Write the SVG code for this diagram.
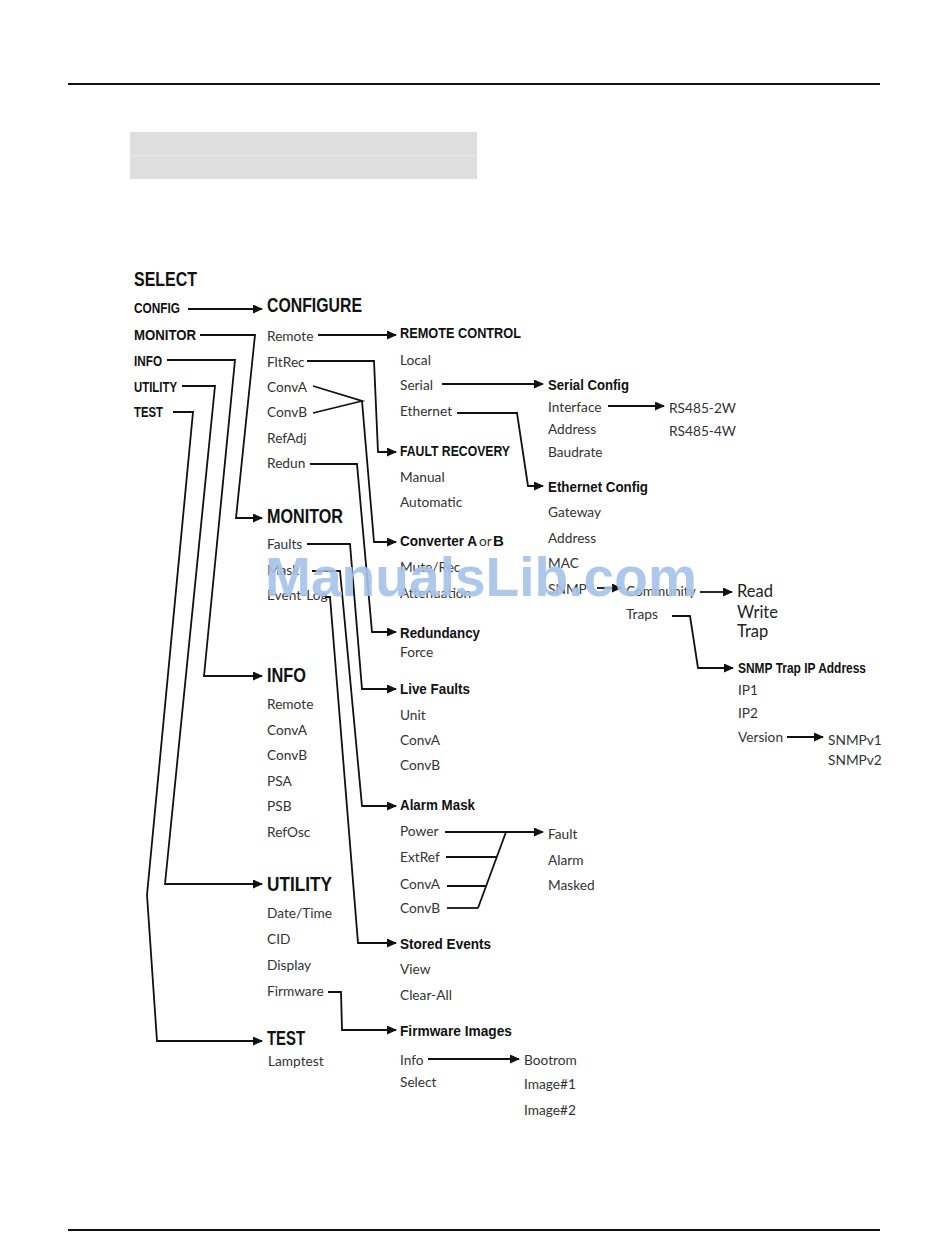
<svg xmlns="http://www.w3.org/2000/svg" width="950" height="1260" viewBox="0 0 950 1260">
<style>
.t{font-family:Lato,"Liberation Sans",sans-serif;font-size:13.7px;fill:#333}
.tb{font-family:Lato,"Liberation Sans",sans-serif;font-size:16.5px;fill:#222}
.h{font-family:"Liberation Sans",Arial,sans-serif;font-weight:bold;font-size:15px;fill:#111}
.H{font-family:"Liberation Sans",Arial,sans-serif;font-weight:bold;font-size:19.5px;fill:#111}
.c{stroke:#111;stroke-width:1.8;fill:none;stroke-linejoin:miter}
.a{marker-end:url(#ah)}
.wm{font-family:"Liberation Sans",Arial,sans-serif;font-weight:bold;font-size:56px;fill:#a6c3ea;opacity:0.9}
</style>
<defs>
<marker id="ah" markerUnits="userSpaceOnUse" markerWidth="10" markerHeight="9" refX="9" refY="4.5" orient="auto">
<path d="M0,0 L10,4.5 L0,9 z" fill="#111"/>
</marker>
</defs>
<rect width="950" height="1260" fill="#fff"/>
<g id="page">
<line x1="68" y1="84" x2="880" y2="84" stroke="#111" stroke-width="2"/>
<rect x="130" y="132" width="347" height="47" fill="#dedede"/>
<line x1="130" y1="155.5" x2="477" y2="155.5" stroke="#e8e8e8" stroke-width="1.5"/>
<line x1="68" y1="1230" x2="880" y2="1230" stroke="#111" stroke-width="2"/>
</g>
<g id="connectors">
<path class="c a" d="M188,309 H262"/>
<path class="c a" d="M200,335 H255 L236,518 H262"/>
<path class="c a" d="M167,360 H235 L204,676 H262"/>
<path class="c a" d="M182,386 H215 L165,884 H262"/>
<path class="c a" d="M173,412 H193 L147,895 L157,1041 H262"/>
<path class="c a" d="M318,335 H396"/>
<path class="c a" d="M307,361 H374 L378,452 H396"/>
<path class="c" d="M313,386 L362,401 L313,413"/>
<path class="c a" d="M362,401 L374,542 H396"/>
<path class="c a" d="M310,464 H357 L372,632 H396"/>
<path class="c a" d="M442,384 H543"/>
<path class="c a" d="M457,413 H517 L528,486 H543"/>
<path class="c a" d="M608,406 H664"/>
<path class="c a" d="M597,588 H621"/>
<path class="c a" d="M700,592 H732"/>
<path class="c a" d="M672,616 H690 L698,668 H733"/>
<path class="c a" d="M787,737 H823"/>
<path class="c a" d="M307,544 H350 L362,689 H396"/>
<path class="c a" d="M312,571 H340 L362,806 H396"/>
<path class="c a" d="M325,597 H330 L358,943 H396"/>
<path class="c a" d="M445,832 H543"/>
<path class="c" d="M506,832 L478,908"/>
<path class="c" d="M446,857 H497"/>
<path class="c" d="M447,886 H487"/>
<path class="c" d="M447,908 H478"/>
<path class="c a" d="M328,992 H341 L342,1030 H396"/>
<path class="c a" d="M428,1059 H519"/>
</g>
<g id="select">
<text class="H" x="134" y="286" textLength="63" lengthAdjust="spacingAndGlyphs">SELECT</text>
<text class="h" x="134" y="313" textLength="46" lengthAdjust="spacingAndGlyphs">CONFIG</text>
<text class="h" x="134" y="340" textLength="62" lengthAdjust="spacingAndGlyphs">MONITOR</text>
<text class="h" x="134" y="366" textLength="28" lengthAdjust="spacingAndGlyphs">INFO</text>
<text class="h" x="134" y="392" textLength="43" lengthAdjust="spacingAndGlyphs">UTILITY</text>
<text class="h" x="134" y="417" textLength="29" lengthAdjust="spacingAndGlyphs">TEST</text>
</g>
<g id="configure">
<text class="H" x="267" y="312" textLength="95" lengthAdjust="spacingAndGlyphs">CONFIGURE</text>
<text class="t" x="267" y="341">Remote</text>
<text class="t" x="267" y="367">FltRec</text>
<text class="t" x="267" y="392">ConvA</text>
<text class="t" x="267" y="417">ConvB</text>
<text class="t" x="267" y="443">RefAdj</text>
<text class="t" x="267" y="468">Redun</text>
</g>
<g id="monitor">
<text class="H" x="267" y="523" textLength="76" lengthAdjust="spacingAndGlyphs">MONITOR</text>
<text class="t" x="267" y="549">Faults</text>
<text class="t" x="267" y="575">Mask</text>
<text class="t" x="267" y="600">Event-Log</text>
</g>
<g id="info">
<text class="H" x="267" y="682" textLength="39" lengthAdjust="spacingAndGlyphs">INFO</text>
<text class="t" x="267" y="709">Remote</text>
<text class="t" x="267" y="735">ConvA</text>
<text class="t" x="267" y="760">ConvB</text>
<text class="t" x="267" y="786">PSA</text>
<text class="t" x="267" y="811">PSB</text>
<text class="t" x="267" y="837">RefOsc</text>
</g>
<g id="utility">
<text class="H" x="267" y="891" textLength="65" lengthAdjust="spacingAndGlyphs">UTILITY</text>
<text class="t" x="267" y="918">Date/Time</text>
<text class="t" x="267" y="944">CID</text>
<text class="t" x="267" y="970">Display</text>
<text class="t" x="267" y="996">Firmware</text>
</g>
<g id="test">
<text class="H" x="267" y="1045" textLength="38" lengthAdjust="spacingAndGlyphs">TEST</text>
<text class="t" x="268" y="1066">Lamptest</text>
</g>
<g id="remote-control">
<text class="h" x="400" y="338" textLength="121" lengthAdjust="spacingAndGlyphs">REMOTE CONTROL</text>
<text class="t" x="400" y="365">Local</text>
<text class="t" x="400" y="390">Serial</text>
<text class="t" x="400" y="416">Ethernet</text>
</g>
<g id="fault-recovery">
<text class="h" x="400" y="456" textLength="110" lengthAdjust="spacingAndGlyphs">FAULT RECOVERY</text>
<text class="t" x="400" y="482">Manual</text>
<text class="t" x="400" y="507">Automatic</text>
</g>
<g id="converter">
<text class="h" x="400" y="546" textLength="77" lengthAdjust="spacingAndGlyphs">Converter A</text>
<text class="t" x="479" y="546">or</text>
<text class="h" x="493" y="546">B</text>
<text class="t" x="400" y="572">Mute/Rec</text>
<text class="t" x="400" y="598">Attenuation</text>
</g>
<g id="redundancy">
<text class="h" x="400" y="638" textLength="80" lengthAdjust="spacingAndGlyphs">Redundancy</text>
<text class="t" x="400" y="657">Force</text>
</g>
<g id="live-faults">
<text class="h" x="400" y="694" textLength="70" lengthAdjust="spacingAndGlyphs">Live Faults</text>
<text class="t" x="400" y="720">Unit</text>
<text class="t" x="400" y="745">ConvA</text>
<text class="t" x="400" y="770">ConvB</text>
</g>
<g id="alarm-mask">
<text class="h" x="400" y="810" textLength="75" lengthAdjust="spacingAndGlyphs">Alarm Mask</text>
<text class="t" x="400" y="836">Power</text>
<text class="t" x="400" y="862">ExtRef</text>
<text class="t" x="400" y="889">ConvA</text>
<text class="t" x="400" y="913">ConvB</text>
</g>
<g id="mask-options">
<text class="t" x="548" y="839">Fault</text>
<text class="t" x="548" y="865">Alarm</text>
<text class="t" x="548" y="890">Masked</text>
</g>
<g id="stored-events">
<text class="h" x="400" y="949" textLength="91" lengthAdjust="spacingAndGlyphs">Stored Events</text>
<text class="t" x="400" y="974">View</text>
<text class="t" x="400" y="1000">Clear-All</text>
</g>
<g id="firmware-images">
<text class="h" x="400" y="1036" textLength="112" lengthAdjust="spacingAndGlyphs">Firmware Images</text>
<text class="t" x="400" y="1065">Info</text>
<text class="t" x="400" y="1087">Select</text>
</g>
<g id="images">
<text class="t" x="524" y="1065">Bootrom</text>
<text class="t" x="524" y="1089">Image#1</text>
<text class="t" x="524" y="1115">Image#2</text>
</g>
<g id="serial-config">
<text class="h" x="548" y="390" textLength="81" lengthAdjust="spacingAndGlyphs">Serial Config</text>
<text class="t" x="548" y="412">Interface</text>
<text class="t" x="548" y="434">Address</text>
<text class="t" x="548" y="457">Baudrate</text>
</g>
<g id="interfaces">
<text class="t" x="669" y="413">RS485-2W</text>
<text class="t" x="669" y="436">RS485-4W</text>
</g>
<g id="ethernet-config">
<text class="h" x="548" y="492" textLength="100" lengthAdjust="spacingAndGlyphs">Ethernet Config</text>
<text class="t" x="548" y="517">Gateway</text>
<text class="t" x="548" y="543">Address</text>
<text class="t" x="548" y="568">MAC</text>
<text class="t" x="548" y="594">SNMP</text>
</g>
<g id="snmp">
<text class="t" x="626" y="596">Community</text>
<text class="t" x="626" y="619">Traps</text>
</g>
<g id="community">
<text class="tb" x="737" y="597">Read</text>
<text class="tb" x="737" y="618">Write</text>
<text class="tb" x="737" y="637">Trap</text>
</g>
<g id="snmp-trap">
<text class="h" x="738" y="673" textLength="128" lengthAdjust="spacingAndGlyphs">SNMP Trap IP Address</text>
<text class="t" x="738" y="695">IP1</text>
<text class="t" x="738" y="718">IP2</text>
<text class="t" x="738" y="742">Version</text>
</g>
<g id="versions">
<text class="t" x="828" y="745">SNMPv1</text>
<text class="t" x="828" y="765">SNMPv2</text>
</g>
<g id="watermark">
<text class="wm" x="265" y="596" textLength="432" lengthAdjust="spacingAndGlyphs">ManualsLib.com</text>
</g>
</svg>
